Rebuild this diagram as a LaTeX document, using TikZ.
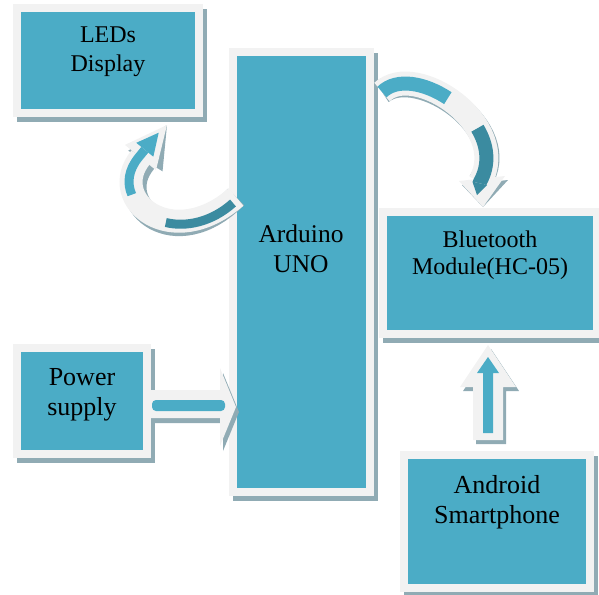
\documentclass[tikz,border=0pt]{standalone}
\usepackage{fontspec}
\setmainfont{Liberation Serif}
\usetikzlibrary{arrows.meta,backgrounds}
\definecolor{tealc}{HTML}{4BACC6}
\definecolor{frameg}{HTML}{F2F2F2}
\definecolor{shadowc}{HTML}{90ABB4}
\definecolor{darkteal}{HTML}{3B8BA0}
\newcommand{\myfs}[2]{\fontsize{#1}{#2}\selectfont}
\begin{document}
\begin{tikzpicture}[x=1pt,y=-1pt,
  box/.style={draw=frameg, fill=tealc, line width=8pt, inner sep=0pt, rectangle},
  lbl/.style={anchor=base, inner sep=0pt, text=black},
  boxshadow/.style={fill=shadowc},
  bandlight/.style={draw=frameg, line cap=butt},
  bandshadow/.style={draw=shadowc, line cap=butt}]
\useasboundingbox (0,0) rectangle (599,594);

% ---------- boxes ----------
\node[box, minimum width=182pt, minimum height=105pt] (leds) at (108,60.5) {};
\node[box, minimum width=137pt, minimum height=440pt] (ard) at (301.5,272) {};
\node[box, minimum width=214pt, minimum height=122pt] (bt) at (490,273) {};
\node[box, minimum width=130pt, minimum height=106pt] (pwr) at (82,401) {};
\node[box, minimum width=186pt, minimum height=133pt] (andr) at (497,521.5) {};

\begin{scope}[on background layer]
  \foreach \b in {leds,ard,bt,pwr,andr}
    \fill[boxshadow] ([shift={(4,5)}]\b.north west) rectangle ([shift={(4,5)}]\b.south east);
\end{scope}

% ---------- labels ----------
\node[lbl, font=\myfs{24}{28}] (t1) at (108,42.7) {LEDs};
\node[lbl, font=\myfs{24}{28}] (t2) at (108,71) {Display};
\node[lbl, font=\myfs{25.5}{30}] (t3) at (301,242) {Arduino};
\node[lbl, font=\myfs{25.5}{30}] (t4) at (301,272) {UNO};
\node[lbl, font=\myfs{24}{28}] (t5) at (490,247.7) {Bluetooth};
\node[lbl, font=\myfs{24}{28}] (t6) at (490,274.3) {Module(HC-05)};
\node[lbl, font=\myfs{26}{30}] (t7) at (82,385) {Power};
\node[lbl, font=\myfs{26}{30}] (t8) at (82,415) {supply};
\node[lbl, font=\myfs{26}{30}] (t9) at (497,493.3) {Android};
\node[lbl, font=\myfs{26}{30}] (t10) at (497,523.3) {Smartphone};

% ---------- Power supply -> Arduino ----------
\coordinate (pwT) at (150,404);
\begin{scope}[shift={(pwT)}]
  \fill[shadowc, shift={(3,5)}] (0,-14) -- (70,-14) -- (70,-36) -- (86,3) -- (70,42) -- (70,14) -- (0,14) -- cycle;
  \fill[frameg] (0,-14) -- (70,-14) -- (70,-36) -- (86,3) -- (70,42) -- (70,14) -- (0,14) -- cycle;
  \fill[tealc, rounded corners=4pt] (2,-4) rectangle (75,7);
\end{scope}

% ---------- Android -> Bluetooth ----------
\coordinate (upT) at (488,440);
\begin{scope}[shift={(upT)}]
  \fill[shadowc, shift={(3,4)}] (-15,0) -- (-15,-53) -- (-28,-53) -- (0,-95) -- (28,-53) -- (15,-53) -- (15,0) -- cycle;
  \fill[frameg] (-15,0) -- (-15,-53) -- (-28,-53) -- (0,-95) -- (28,-53) -- (15,-53) -- (15,0) -- cycle;
  \fill[tealc] (-5,-7) -- (-5,-67) -- (-11,-67) -- (0,-83) -- (11,-67) -- (5,-67) -- (5,-7) -- cycle;
\end{scope}

% ---------- Arduino -> LEDs (curved) ----------
\coordinate (lA) at (236,197);
\coordinate (lB) at (167,125);
\begin{scope}[shift={(4,5)}]
  \draw[bandshadow, line width=23pt, -{Triangle[length=42pt,width=40pt,line width=0pt]}]
    (lA) .. controls (172,253) and (106,200) .. (140.5,157.5) -- (lB);
\end{scope}
\draw[bandlight, line width=23pt, -{Triangle[length=42pt,width=40pt,line width=0pt]}]
    (lA) .. controls (172,253) and (106,200) .. (140.5,157.5) -- (lB);
\begin{scope}[shift={(1,3)}]
  \draw[darkteal, line width=9pt, line cap=butt]
    (232,200) .. controls (210.4,219.4) and (184.48,224.36) .. (164.8,219.5);
\end{scope}
\begin{scope}[shift={(-2,0)}]
  \draw[tealc, line width=9pt, line cap=butt, -{Triangle[length=22pt,width=22pt,line width=0pt]}]
    (133.82,194.66) .. controls (128.85,183.52) and (130.15,170.25) .. (140.5,157.5) -- (160.7,132.7);
\end{scope}

% ---------- Arduino -> Bluetooth (curved) ----------
\coordinate (rA) at (382,92);
\coordinate (rB) at (480,182);
\coordinate (rTip) at (483,207);
\begin{scope}[shift={(3,4)}]
  \draw[bandshadow, line width=24pt] (rA) .. controls (415,60) and (512,125) .. (rB);
  \fill[shadowc] (459,181) -- (rTip) -- (505,176) -- cycle;
\end{scope}
\draw[bandlight, line width=24pt] (rA) .. controls (415,60) and (512,125) .. (rB);
\fill[frameg] (459,181) -- (rTip) -- (505,176) -- cycle;
\draw[tealc, line width=14pt, line cap=butt]
  (rA) .. controls (396.85,77.6) and (424.66,82.84) .. (447.84,98.16);
\draw[darkteal, line width=14pt, line cap=butt, -{Triangle[length=12pt,width=15pt,line width=0pt]}]
  (477.42,128.26) .. controls (487.27,144.7) and (490.24,163.76) .. (rB) -- (477,195);
\end{tikzpicture}
\end{document}
